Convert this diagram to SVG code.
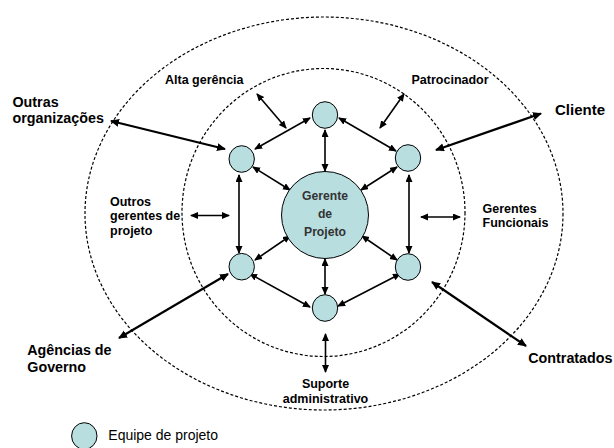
<svg xmlns="http://www.w3.org/2000/svg" width="614" height="448" viewBox="0 0 614 448">
<style>
.ring{fill:none;stroke:#000;stroke-width:1.2;stroke-dasharray:3 2}
.node{fill:#b8dee0;stroke:#000;stroke-width:1}
.in{stroke:#000;stroke-width:1.6;fill:none;marker-start:url(#ah);marker-end:url(#ah)}
.out{stroke:#000;stroke-width:2.2;fill:none;marker-start:url(#ahb);marker-end:url(#ahb)}
.lbl{font-family:"Liberation Sans",Arial,sans-serif;font-weight:bold;font-size:12.5px;fill:#000}
.big{font-family:"Liberation Sans",Arial,sans-serif;font-weight:bold;font-size:14.3px;fill:#000}
.pm{font-family:"Liberation Sans",Arial,sans-serif;font-weight:bold;font-size:12.2px;fill:#333;text-anchor:middle}
.leg{font-family:"Liberation Sans",Arial,sans-serif;font-size:14px;fill:#000}
</style>
<defs>
<marker id="ah" markerUnits="userSpaceOnUse" markerWidth="10" markerHeight="10" refX="7" refY="3.5" orient="auto-start-reverse"><path d="M0,0 L8,3.5 L0,7 z" fill="#000"/></marker>
<marker id="ahb" markerUnits="userSpaceOnUse" markerWidth="12" markerHeight="12" refX="8" refY="4" orient="auto-start-reverse"><path d="M0,0 L9,4 L0,8 z" fill="#000"/></marker>
</defs>
<rect width="614" height="448" fill="#fff"/>
<g id="rings">
<ellipse class="ring" cx="324" cy="213.5" rx="239" ry="196.5"/>
<ellipse class="ring" cx="323.5" cy="212.5" rx="141.5" ry="144"/>
</g>
<g id="connectors">
<line class="in" x1="325" y1="130" x2="325" y2="171"/>
<line class="in" x1="310" y1="118" x2="255" y2="149"/>
<line class="in" x1="339" y1="118" x2="396" y2="151"/>
<line class="in" x1="253" y1="167" x2="290" y2="190"/>
<line class="in" x1="397" y1="167" x2="361" y2="190"/>
<line class="in" x1="239" y1="175" x2="239" y2="253"/>
<line class="in" x1="409" y1="175" x2="409" y2="253"/>
<line class="in" x1="255" y1="260" x2="290" y2="236"/>
<line class="in" x1="362" y1="236" x2="397" y2="260"/>
<line class="in" x1="325" y1="259" x2="325" y2="294"/>
<line class="in" x1="250" y1="274" x2="310" y2="307"/>
<line class="in" x1="400" y1="274" x2="338" y2="306"/>
<line class="in" x1="257" y1="94" x2="286" y2="128"/>
<line class="in" x1="404" y1="94" x2="380" y2="128"/>
<line class="in" x1="191" y1="215.5" x2="229" y2="215.5"/>
<line class="in" x1="421" y1="217" x2="460" y2="217"/>
<line class="in" x1="325.5" y1="334" x2="325.5" y2="372"/>
<line class="out" x1="111" y1="121" x2="225" y2="149"/>
<line class="out" x1="541" y1="113.5" x2="436" y2="150"/>
<line class="out" x1="119" y1="338" x2="228" y2="274"/>
<line class="out" x1="526" y1="346" x2="432" y2="282"/>
</g>
<g id="gerente">
<circle class="node" cx="325" cy="215" r="43.5"/>
<text class="pm" x="325" y="200">Gerente</text>
<text class="pm" x="325" y="218">de</text>
<text class="pm" x="325" y="236">Projeto</text>
</g>
<g id="equipe-top"><ellipse class="node" cx="325" cy="115" rx="12.7" ry="13.3"/></g>
<g id="equipe-ul"><ellipse class="node" cx="241.7" cy="159" rx="12.7" ry="13.3"/></g>
<g id="equipe-ur"><ellipse class="node" cx="408" cy="158" rx="12.7" ry="13.3"/></g>
<g id="equipe-ll"><ellipse class="node" cx="241.7" cy="266.7" rx="12.7" ry="13.3"/></g>
<g id="equipe-lr"><ellipse class="node" cx="408" cy="267" rx="12.7" ry="13.3"/></g>
<g id="equipe-bottom"><ellipse class="node" cx="325" cy="308" rx="12.7" ry="13.3"/></g>
<g id="alta-gerencia"><text class="lbl" x="165" y="84">Alta gerência</text></g>
<g id="patrocinador"><text class="lbl" x="411.5" y="83.5">Patrocinador</text></g>
<g id="outros-gerentes">
<text class="lbl" x="110" y="205.5">Outros</text>
<text class="lbl" x="110" y="220">gerentes de</text>
<text class="lbl" x="110" y="234.5">projeto</text>
</g>
<g id="gerentes-funcionais">
<text class="lbl" x="482.5" y="212.5">Gerentes</text>
<text class="lbl" x="482.5" y="226.5">Funcionais</text>
</g>
<g id="suporte">
<text class="lbl" x="325.5" y="387.5" text-anchor="middle">Suporte</text>
<text class="lbl" x="325.5" y="402.5" text-anchor="middle">administrativo</text>
</g>
<g id="outras-org">
<text class="big" x="12.5" y="106.5">Outras</text>
<text class="big" x="12.5" y="123.3">organizações</text>
</g>
<g id="cliente"><text class="big" x="555" y="115" style="font-size:15px">Cliente</text></g>
<g id="agencias">
<text class="big" x="27.3" y="355">Agências de</text>
<text class="big" x="27.3" y="371.7">Governo</text>
</g>
<g id="contratados"><text class="big" x="528.3" y="363.3">Contratados</text></g>
<g id="legenda">
<ellipse class="node" cx="84.3" cy="436" rx="12.7" ry="13.3"/>
<text class="leg" x="108.3" y="439.5">Equipe de projeto</text>
</g>
</svg>
